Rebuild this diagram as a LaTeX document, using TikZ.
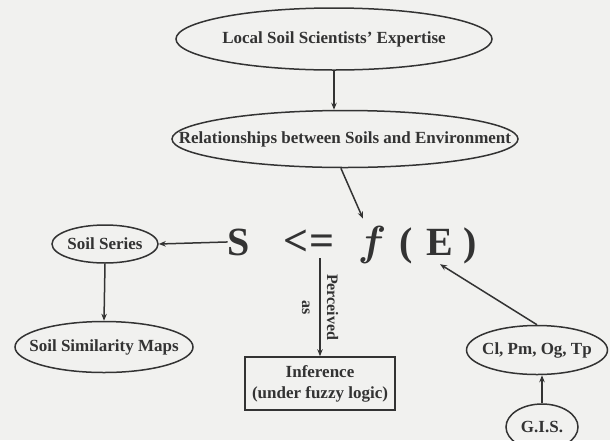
\documentclass[tikz,border=0pt]{standalone}
\usepackage{fontspec}
\setmainfont{Liberation Serif}
\usetikzlibrary{shapes.geometric,arrows.meta}
\definecolor{ink}{HTML}{333333}
\definecolor{paper}{HTML}{F1F1EF}
\newcommand\zb[1]{\makebox[0pt]{#1}}
\begin{document}
\begin{tikzpicture}[x=1pt,y=-1pt,
  oval/.style={ellipse,draw=ink,line width=1.5pt,inner sep=0pt,text=ink,
    font=\bfseries\fontsize{17}{20}\selectfont},
  boxn/.style={rectangle,draw=ink,line width=1.5pt,inner sep=0pt,text=ink,align=center,
    font=\bfseries\fontsize{17}{21}\selectfont},
  eq/.style={inner sep=0pt,text=ink,anchor=base,font=\bfseries\fontsize{40}{44}\selectfont},
  conn/.style={draw=ink,line width=1.5pt,-{Stealth[length=7pt,width=5.5pt]}}]
\fill[paper] (0,0) rectangle (610,440);
\clip (0,0) rectangle (610,440);
\useasboundingbox (0,0) rectangle (610,440);

\node[oval,minimum width=316pt,minimum height=62pt] (e1) at (334,39) {\zb{Local Soil Scientists' Expertise}};
\node[oval,minimum width=346pt,minimum height=57pt] (e2) at (345,139) {\zb{Relationships between Soils and Environment}};
\node[oval,minimum width=106pt,minimum height=38pt] (ss) at (105,244) {\zb{Soil Series}};
\node[oval,minimum width=178pt,minimum height=51pt] (sm) at (104,347) {\zb{Soil Similarity Maps}};
\node[boxn,minimum width=150pt,minimum height=53pt] (inf) at (320,383.5) {Inference\\(under fuzzy logic)};
\node[oval,minimum width=141pt,minimum height=49pt] (cl) at (537,350) {\zb{Cl, Pm, Og, Tp}};
\node[oval,minimum width=72pt,minimum height=46pt] (gis) at (542,427) {\zb{G.I.S.}};

\node[eq] (S) at (239,255) {S};
\node[eq,font={\bfseries\fontsize{44}{48}\selectfont}] (le) at (309,255) {<=};
\node[eq,font={\mathversion{bold}}] (f) at (372,255) {\scalebox{4.2}{$f$}};
\node[eq] (lp) at (406,255) {(};
\node[eq] (E) at (440,255) {E};
\node[eq] (rp) at (470,255) {)};

\draw[conn] (e1.south) -- (e1.south |- e2.north);
\draw[conn] (e2.262) -- ([xshift=-9pt,yshift=7pt]f.north);
\draw[conn] (S.west) -- (ss.east);
\draw[conn] (ss.south) -- (sm.north);
\draw[conn] ([yshift=-3pt]inf.north |- le.south) -- node[inner sep=0pt,rotate=-90,align=center,text=ink,
   font={\bfseries\fontsize{16}{25}\selectfont}] (pa) {Perceived\\as} (inf.north);
\draw[conn] (cl.north) -- ([yshift=-9pt]E.south);
\draw[conn] (gis.north) -- (gis.north |- cl.south);
\end{tikzpicture}
\end{document}
